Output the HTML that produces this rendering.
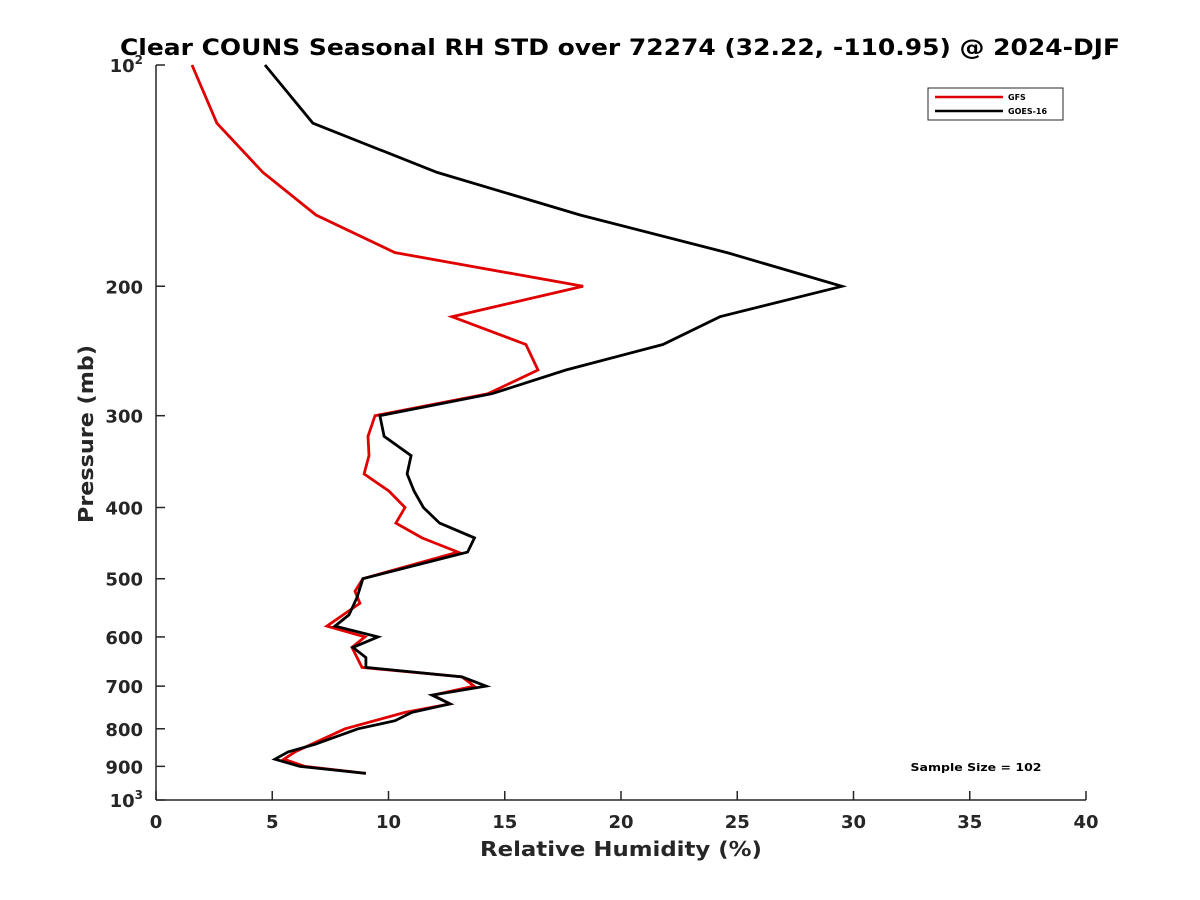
<!DOCTYPE html>
<html><head><meta charset="utf-8"><style>
body{margin:0;background:#fff;}
svg{display:block;font-family:"DejaVu Sans","Liberation Sans",sans-serif;}
</style></head><body>
<svg id="chart" width="1200" height="900">
<text x="620" y="55" text-anchor="middle" font-size="22" font-weight="bold" fill="#000" textLength="1000" lengthAdjust="spacingAndGlyphs">Clear COUNS Seasonal RH STD over 72274 (32.22, -110.95) @ 2024-DJF</text>
<g id="axes"></g>
<g id="series"></g>
<g>
<rect x="928" y="88" width="135" height="32" fill="#fff" stroke="#262626" stroke-width="1"/>
<line x1="935" y1="97" x2="1003" y2="97" stroke="#e00000" stroke-width="2.5"/>
<text x="1008" y="100" font-size="8" font-weight="bold">GFS</text>
<line x1="935" y1="111" x2="1003" y2="111" stroke="#000" stroke-width="2.5"/>
<text x="1008" y="114" font-size="8" font-weight="bold">GOES-16</text>
</g>
<text x="976" y="771" text-anchor="middle" font-size="11" font-weight="bold" textLength="131" lengthAdjust="spacingAndGlyphs">Sample Size = 102</text>
<text x="621" y="856" text-anchor="middle" font-size="20" font-weight="bold" fill="#262626" textLength="282" lengthAdjust="spacingAndGlyphs">Relative Humidity (%)</text>
<text transform="translate(93,434) rotate(-90)" text-anchor="middle" font-size="20" font-weight="bold" fill="#262626" textLength="178" lengthAdjust="spacingAndGlyphs">Pressure (mb)</text>
</svg>
<script>
const xTicks=[0,5,10,15,20,25,30,35,40];
const yTicks=[100,200,300,400,500,600,700,800,900,1000];
const gfsP=[100,120,140,160,180,200,220,240,260,280,300,320,340,360,380,400,420,440,460,500,520,540,580,600,620,660,680,700,720,740,760,800,860,880,900,920];
const gfsRH=[1.55,2.62,4.6,6.88,10.28,18.37,12.73,15.91,16.43,14.28,9.42,9.12,9.16,8.95,10.02,10.71,10.32,11.44,12.99,8.9,8.56,8.77,7.35,8.99,8.43,8.86,13.16,13.68,11.91,12.65,10.71,8.13,5.98,5.5,6.41,9.03];
const goesP=[100,120,140,160,180,200,220,240,260,280,300,320,340,360,380,400,420,440,460,500,530,560,580,600,620,640,660,680,700,720,740,760,780,800,840,860,880,900,920];
const goesRH=[4.69,6.75,12.09,18.24,24.56,29.5,24.26,21.8,17.63,14.45,9.63,9.81,10.97,10.8,11.1,11.5,12.2,13.7,13.4,8.9,8.65,8.3,7.7,9.55,8.47,9.03,9.03,13.16,14.2,11.87,12.65,11.0,10.28,8.69,6.84,5.68,5.12,6.19,9.03];
const NS='http://www.w3.org/2000/svg';
const X0=156,X1=1086,Y0=65,Y1=800;
function xs(v){return X0+(v-0)/40*(X1-X0);}
function ys(p){return Y0+(Math.log10(p)-2)*(Y1-Y0);}
function mk(t,a,parent){const e=document.createElementNS(NS,t);for(const k in a)e.setAttribute(k,a[k]);parent.appendChild(e);return e;}
const ax=document.getElementById('axes');
let l=mk('line',{x1:X0,y1:Y0,x2:X0,y2:Y1,stroke:'#262626','stroke-width':1.5},ax);


l=mk('line',{x1:X0,y1:Y1,x2:X1,y2:Y1,stroke:'#262626','stroke-width':1.5},ax);


xTicks.forEach(v=>{
 const x=xs(v);
 const t=mk('line',{x1:x,y1:Y1,x2:x,y2:Y1-9,stroke:'#262626','stroke-width':1.5},ax);
 
 
 const tx=mk('text',{x:x,y:Y1+28,'text-anchor':'middle','font-size':18,'font-weight':'bold',fill:'#262626'},ax);
 tx.textContent=v;
 
 
});
yTicks.forEach(p=>{
 const y=ys(p);
 const t=mk('line',{x1:X0,y1:y,x2:X0+9,y2:y,stroke:'#262626','stroke-width':1.5},ax);
 
 
 const tx=mk('text',{x:X0-13,y:y+7,'text-anchor':'end','font-size':18,'font-weight':'bold',fill:'#262626'},ax);
 if(p===100||p===1000){
  tx.textContent='10';
  const s=mk('tspan',{dy:-8,'font-size':12},tx);s.textContent=p===100?'2':'3';
 } else tx.textContent=p;
 
 
});
const sg=document.getElementById('series');
function drawLine(P,V,color,name){
 const pts=P.map((p,i)=>xs(V[i]).toFixed(1)+','+ys(p).toFixed(1)).join(' ');
 const e=mk('polyline',{points:pts,fill:'none',stroke:color,'stroke-width':2.8,'stroke-linejoin':'miter'},sg);
 
 
}
drawLine(gfsP,gfsRH,'#e00000','gfs-line');
drawLine(goesP,goesRH,'#000','goes16-line');
</script>
</body></html>
